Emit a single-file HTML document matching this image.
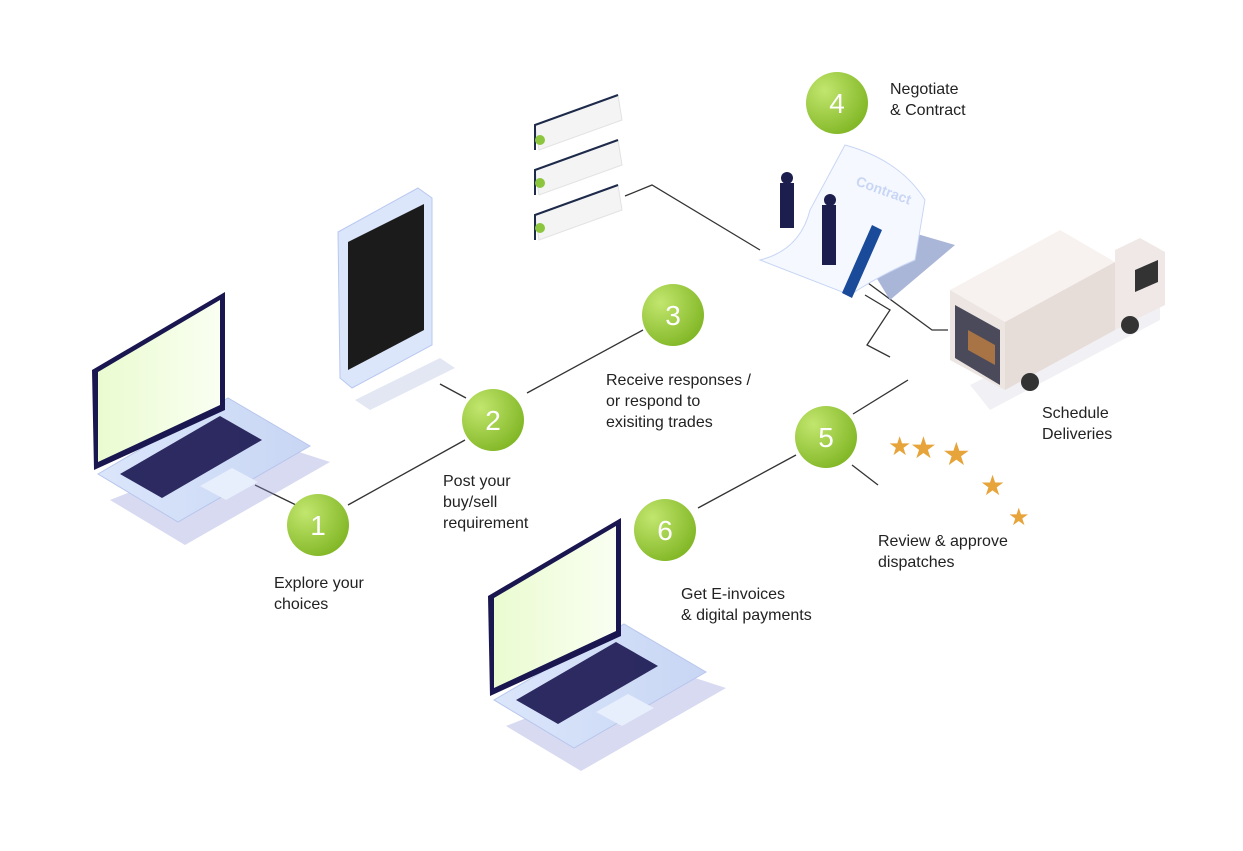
<!DOCTYPE html>
<html><head><meta charset="utf-8"><style>
html,body{margin:0;padding:0;background:#fff}
body{width:1243px;height:851px;position:relative;overflow:hidden;font-family:"Liberation Sans",sans-serif}
.t{position:absolute;font-size:16px;line-height:21px;color:#222}
</style></head><body>
<svg width="1243" height="851" style="position:absolute;left:0;top:0">
<defs>
<radialGradient id="g" cx="0.3" cy="0.3" r="0.8"><stop offset="0" stop-color="#c2e66e"/><stop offset="1" stop-color="#7fb523"/></radialGradient>
<linearGradient id="scr" x1="0" x2="1"><stop offset="0" stop-color="#eafbd0"/><stop offset="1" stop-color="#fafff2"/></linearGradient>
<linearGradient id="base" x1="0" x2="1"><stop offset="0" stop-color="#dbe6fb"/><stop offset="1" stop-color="#c8d6f4"/></linearGradient>
<g id="lap">
<polygon points="110,500 185,545 330,462 262,440" fill="#8f94d6" opacity="0.35"/>
<polygon points="98,474 228,398 310,446 178,522" fill="url(#base)" stroke="#b7c6ec"/>
<polygon points="120,474 220,416 262,440 162,498" fill="#1a1650" opacity="0.9"/>
<polygon points="200,486 232,468 258,482 226,500" fill="#e7eefc"/>
<polygon points="92,370 225,292 225,410 94,470" fill="#1a1650"/>
<polygon points="98,372 220,300 220,405 98,462" fill="url(#scr)"/>
</g>
</defs>
<g stroke="#333" stroke-width="1.3" fill="none">
<line x1="255" y1="485" x2="296" y2="505"/>
<line x1="348" y1="505" x2="465" y2="440"/>
<line x1="440" y1="384" x2="466" y2="398"/>
<line x1="527" y1="393" x2="643" y2="330"/>
<polyline points="625,196 652,185 760,250"/>
<polyline points="865,295 890,310 867,345 890,357"/>
<polyline points="868,283 932,330 948,330"/>
<line x1="908" y1="380" x2="853" y2="414"/>
<line x1="852" y1="465" x2="878" y2="485"/>
<line x1="796" y1="455" x2="698" y2="508"/>
</g>
<use href="#lap"/>
<use href="#lap" transform="translate(396,226)"/>
<!-- phone -->
<polygon points="355,400 440,358 455,368 370,410" fill="#c8cfe8" opacity="0.5"/>
<polygon points="338,232 418,188 432,198 432,345 352,388 340,378" fill="#dbe6fb" stroke="#b8c8f0"/>
<polygon points="348,242 424,204 424,330 348,370" fill="#1b1b1b"/>
<!-- cards -->
<g fill="#f4f4f4" stroke="#e2e2e2">
<polygon points="535,125 618,95 622,120 539,150"/>
<polygon points="535,170 618,140 622,165 539,195"/>
<polygon points="535,215 618,185 622,210 539,240"/>
</g>
<g stroke="#1d2a4a" stroke-width="2" fill="none">
<polyline points="535,150 535,125 618,95"/><polyline points="535,195 535,170 618,140"/><polyline points="535,240 535,215 618,185"/>
</g>
<g fill="#8cc63f"><circle cx="540" cy="140" r="5"/><circle cx="540" cy="183" r="5"/><circle cx="540" cy="228" r="5"/></g>
<!-- contract -->
<polygon points="835,210 955,245 890,300" fill="#aab6d8"/>
<path d="M845,145 Q900,160 925,200 L915,260 Q880,275 850,295 L760,260 Q800,250 810,210 Z" fill="#f5f8ff" stroke="#c8d6f4"/>
<text x="855" y="185" font-size="14" fill="#c8d6f4" font-weight="bold" transform="rotate(20 855 185)">Contract</text>
<g fill="#1c1f4d"><rect x="780" y="183" width="14" height="45"/><rect x="822" y="205" width="14" height="60"/><circle cx="787" cy="178" r="6"/><circle cx="830" cy="200" r="6"/></g>
<polygon points="842,293 872,225 882,230 852,298" fill="#1a4a9a"/>
<!-- truck -->
<polygon points="970,385 1160,290 1160,320 990,410" fill="#e8e8ee" opacity="0.6"/>
<polygon points="950,290 1060,230 1115,262 1005,322" fill="#f7f2ef"/>
<polygon points="950,290 1005,322 1005,390 950,360" fill="#ece5e2"/>
<polygon points="955,305 1000,330 1000,385 955,358" fill="#4a4a5a"/>
<polygon points="968,330 995,345 995,365 968,350" fill="#a87445"/>
<polygon points="1005,322 1115,262 1115,330 1005,390" fill="#e6dcd8"/>
<polygon points="1115,250 1140,238 1165,252 1165,305 1115,330" fill="#efe8e6"/>
<polygon points="1135,270 1158,260 1158,282 1135,292" fill="#333"/>
<g fill="#333"><circle cx="1030" cy="382" r="9"/><circle cx="1130" cy="325" r="9"/></g>
<!-- stars -->
<g fill="#e6a43a">
<text x="888" y="455" font-size="26">★</text><text x="910" y="458" font-size="30">★</text><text x="942" y="465" font-size="32">★</text><text x="980" y="495" font-size="28">★</text><text x="1008" y="525" font-size="24">★</text>
</g>
<!-- circles -->
<g font-family="Liberation Sans" font-size="28" fill="#fff" text-anchor="middle">
<circle cx="318" cy="525" r="31" fill="url(#g)"/><text x="318" y="535">1</text>
<circle cx="493" cy="420" r="31" fill="url(#g)"/><text x="493" y="430">2</text>
<circle cx="673" cy="315" r="31" fill="url(#g)"/><text x="673" y="325">3</text>
<circle cx="837" cy="103" r="31" fill="url(#g)"/><text x="837" y="113">4</text>
<circle cx="826" cy="437" r="31" fill="url(#g)"/><text x="826" y="447">5</text>
<circle cx="665" cy="530" r="31" fill="url(#g)"/><text x="665" y="540">6</text>
</g>
</svg>
<div class="t" style="left:274px;top:573px">Explore your<br>choices</div>
<div class="t" style="left:443px;top:471px">Post your<br>buy/sell<br>requirement</div>
<div class="t" style="left:606px;top:370px">Receive responses /<br>or respond to<br>exisiting trades</div>
<div class="t" style="left:890px;top:79px">Negotiate<br>&amp; Contract</div>
<div class="t" style="left:1042px;top:403px">Schedule<br>Deliveries</div>
<div class="t" style="left:878px;top:531px">Review &amp; approve<br>dispatches</div>
<div class="t" style="left:681px;top:584px">Get E-invoices<br>&amp; digital payments</div>
</body></html>
